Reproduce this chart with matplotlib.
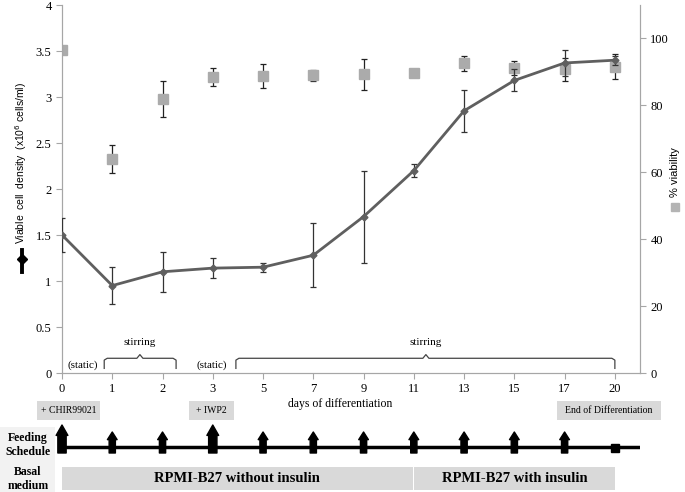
import matplotlib.pyplot as plt
from matplotlib.lines import Line2D
from matplotlib.patches import Rectangle

plt.rcParams["font.family"] = ["Liberation Serif", "DejaVu Serif"]

days = ["0", "1", "2", "3", "5", "7", "9", "11", "13", "15", "17", "20"]
density = [1.50, 0.95, 1.10, 1.14, 1.15, 1.28, 1.70, 2.20, 2.85, 3.18, 3.37, 3.40]
density_err = [0.18, 0.20, 0.22, 0.11, 0.05, 0.35, 0.50, 0.07, 0.23, 0.12, 0.14, 0.05]
viability = [96.5, 64.0, 81.9, 88.4, 88.7, 89.0, 89.3, 89.8, 92.6, 91.2, 90.8, 91.6]
viability_err = [0.0, 4.1, 5.5, 2.7, 3.6, 1.7, 4.7, 1.2, 2.2, 2.0, 3.4, 3.7]
feeding = ["big", "small", "small", "big", "small", "small",
           "small", "small", "small", "small", "small", "end"]
left_ticks = [0, 0.5, 1, 1.5, 2, 2.5, 3, 3.5, 4]
left_ticklabels = ["0", "0.5", "1", "1.5", "2", "2.5", "3", "3.5", "4"]
right_ticks = [0, 20, 40, 60, 80, 100]

W, H = 685, 492
GREY = "#a6a6a6"
BOX = "#d9d9d9"

fig = plt.figure(figsize=(W / 100, H / 100), dpi=100)
ax = fig.add_axes([62 / W, 1 - 373 / H, (640 - 62) / W, (373 - 5) / H])
ax2 = ax.twinx()

x = list(range(len(days)))

# viability (right axis)
ax2.errorbar(x, viability, yerr=viability_err, fmt="s", color="#ababab",
             markersize=6.5, ecolor="#222222", elinewidth=0.9, capsize=2.2,
             capthick=0.9, zorder=2)
ax2.set_ylim(0, 110)
ax2.set_yticks(right_ticks)
ax2.tick_params(axis="y", direction="out", length=4, labelsize=9, colors="black")

# density (left axis), on top of viability
ax.set_zorder(ax2.get_zorder() + 1)
ax.patch.set_visible(False)
ax.errorbar(x, density, yerr=density_err, fmt="-D", color="#5f5f5f",
            markersize=3.5, linewidth=2.0, ecolor="#333333", elinewidth=0.9,
            capsize=2.2, capthick=0.9, zorder=3)
ax.set_ylim(0, 4)
ax.set_xlim(0, 11.5)
ax.set_yticks(left_ticks)
ax.set_yticklabels(left_ticklabels)
ax.set_xticks(x)
ax.set_xticklabels(days)
ax.tick_params(axis="both", direction="out", length=4, labelsize=9, colors="black")
ax.tick_params(axis="x", pad=3)

for a in (ax, ax2):
    a.spines["top"].set_visible(False)
    for s in ("left", "right", "bottom"):
        a.spines[s].set_color(GREY)
    a.tick_params(color=GREY)


def brace(x0, x1, xc, y_base, y_end, y_tip):
    d = 0.06
    xs = [x0, x0, x0 + d, xc - d, xc, xc + d, x1 - d, x1, x1]
    ys = [y_end, y_base - 0.02, y_base, y_base, y_tip, y_base, y_base, y_base - 0.02, y_end]
    ax.plot(xs, ys, color="#444444", linewidth=0.9, clip_on=False, zorder=4)


brace(0.84, 2.27, 1.55, 0.16, 0.05, 0.20)
brace(3.46, 11.0, 7.24, 0.16, 0.05, 0.20)
ax.text(1.55, 0.33, "stirring", ha="center", va="center", fontsize=8)
ax.text(7.24, 0.33, "stirring", ha="center", va="center", fontsize=8)
ax.text(0.41, 0.08, "(static)", ha="center", va="center", fontsize=8)
ax.text(2.98, 0.08, "(static)", ha="center", va="center", fontsize=8)

# axis labels
fig.text(21 / W, 1 - 163 / H, "Viable  cell  density  (x10$^6$ cells/ml)",
         rotation=90, ha="center", va="center", fontsize=7.5,
         family=["Liberation Sans", "DejaVu Sans"])
fig.add_artist(Line2D([22 / W, 22 / W], [1 - 250 / H, 1 - 272 / H],
                      color="black", linewidth=2.8))
fig.add_artist(Line2D([22 / W], [1 - 259 / H], marker="D", markersize=5,
                      color="black"))
fig.text(675 / W, 1 - 172 / H, "% viability", rotation=90, ha="center",
         va="center", fontsize=8, family=["Liberation Sans", "DejaVu Sans"])
fig.add_artist(Line2D([675 / W], [1 - 207 / H], marker="s", markersize=6,
                      color="#b4b4b4", linestyle="none"))

# schedule panel below the chart (y in pixels)
axb = fig.add_axes([62 / W, 0, (640 - 62) / W, 97 / H])
axb.set_xlim(0, 11.5)
axb.set_ylim(H, 395)
axb.axis("off")

axb.text(5.53, 404, "days of differentiation", ha="center", va="center", fontsize=8.5)


def label_box(x0, x1, y0, y1, text, **kw):
    axb.add_patch(Rectangle((x0, y0), x1 - x0, y1 - y0, facecolor=BOX,
                            edgecolor="none", clip_on=False, zorder=1))
    axb.text((x0 + x1) / 2, (y0 + y1) / 2, text, ha="center", va="center",
             clip_on=False, zorder=2, **kw)


label_box(-0.5, 0.76, 401, 420, "+ CHIR99021", fontsize=7)
label_box(2.53, 3.42, 401, 420, "+ IWP2", fontsize=7)
label_box(9.85, 11.92, 401, 420, "End of Differentiation", fontsize=7)

# row titles
axb.add_patch(Rectangle((-1.23, 427), 1.1, 65, facecolor="#f2f2f2",
                        edgecolor="none", clip_on=False, zorder=0))
axb.text(-0.68, 445, "Feeding\nSchedule", ha="center", va="center",
         fontsize=8.5, fontweight="bold", linespacing=1.15, clip_on=False)
axb.text(-0.68, 479, "Basal\nmedium", ha="center", va="center",
         fontsize=8.5, fontweight="bold", linespacing=1.15, clip_on=False)

# feeding schedule
axb.plot([0, 11.5], [447, 447], color="black", linewidth=2.5, solid_capstyle="butt")
for i, kind in enumerate(feeding):
    if kind == "end":
        axb.plot([i], [448], marker="s", markersize=6, color="black")
        continue
    if kind == "big":
        style = "simple,head_length=0.75,head_width=0.85,tail_width=0.6"
        top = 425
    else:
        style = "simple,head_length=0.55,head_width=0.7,tail_width=0.45"
        top = 432
    axb.annotate("", xy=(i, top), xytext=(i, 453),
                 arrowprops=dict(arrowstyle=style, color="black",
                                 shrinkA=0, shrinkB=0, mutation_scale=10),
                 annotation_clip=False)

# basal medium bars
label_box(0, 6.98, 467, 490, "RPMI-B27 without insulin", fontsize=10.5, fontweight="bold")
label_box(7.0, 11.0, 467, 490, "RPMI-B27 with insulin", fontsize=10.5, fontweight="bold")

fig.savefig("out.png", dpi=100)
